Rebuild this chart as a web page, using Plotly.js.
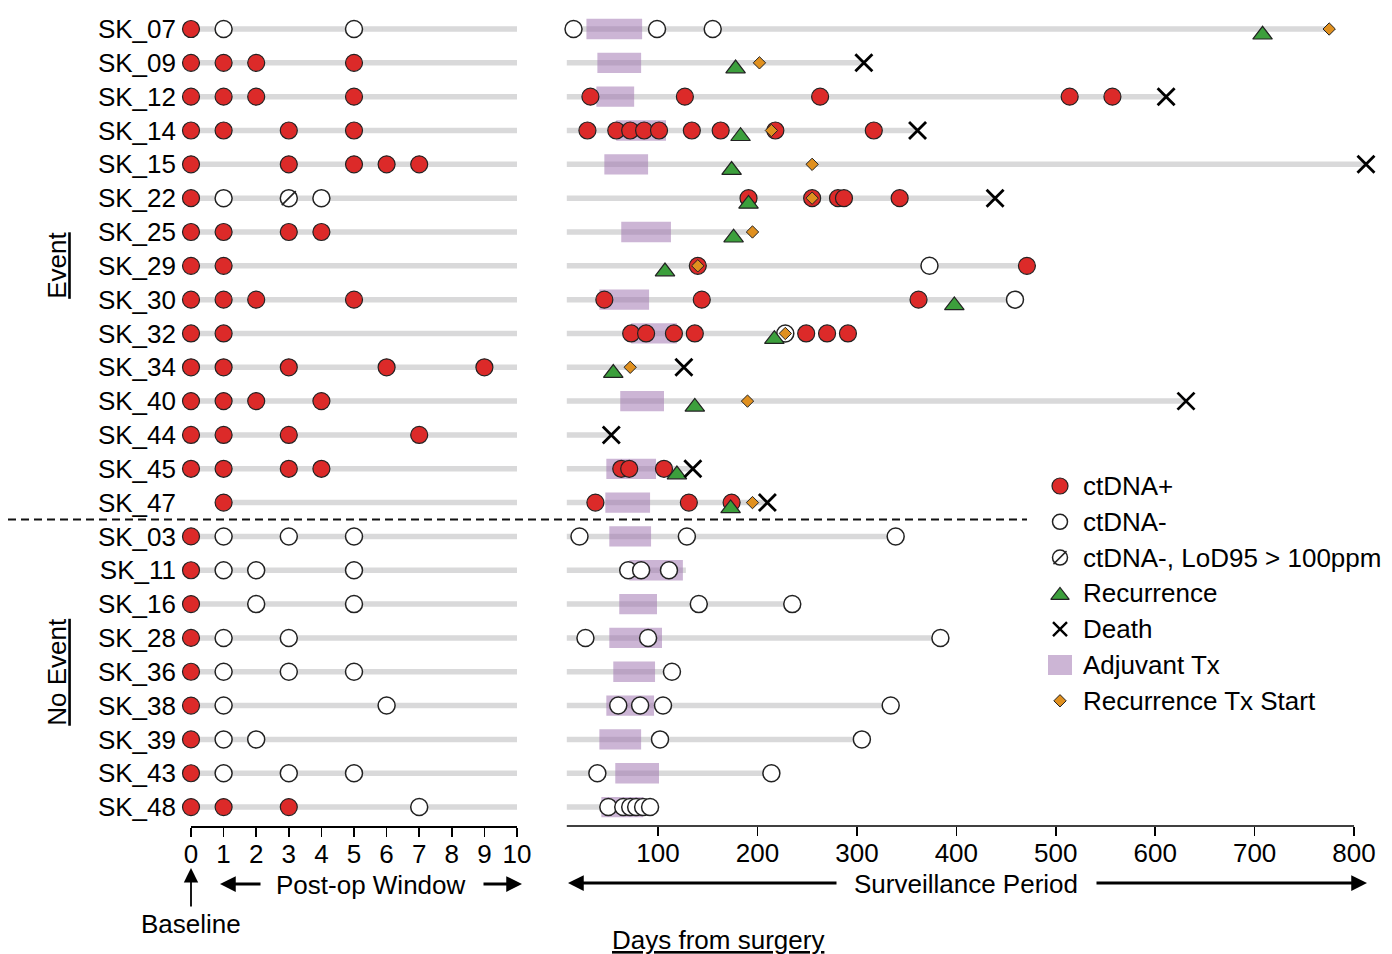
<!DOCTYPE html>
<html><head><meta charset="utf-8">
<script src="https://cdn.plot.ly/plotly-3.0.1.min.js"></script>
<style>html,body{margin:0;padding:0;background:#fff}#chart{width:1392px;height:954px}</style>
</head><body><div id="chart"></div>
<script>
// ---------------- DATA ----------------
const patients = ['SK_07','SK_09','SK_12','SK_14','SK_15','SK_22','SK_25','SK_29','SK_30','SK_32','SK_34','SK_40','SK_44','SK_45','SK_47',
                  'SK_03','SK_11','SK_16','SK_28','SK_36','SK_38','SK_39','SK_43','SK_48'];
const groupLabels = ['Event','No Event'];
const groupSizes = [15, 9];

// Post-op window (days 0-10)
const postPos = [[0],[0,1,2,5],[0,1,2,5],[0,1,3,5],[0,3,5,6,7],[0],[0,1,3,4],[0,1],[0,1,2,5],[0,1],[0,1,3,6,9],[0,1,2,4],[0,1,3,7],[0,1,3,4],[1],
                 [0],[0],[0],[0],[0],[0],[0],[0],[0,1,3]];
const postNeg = [[1,5],[],[],[],[],[1,4],[],[],[],[],[],[],[],[],[],
                 [1,3,5],[1,2,5],[2,5],[1,3],[1,3,5],[1,6],[1,2],[1,3,5],[7]];
const postLod = [[],[],[],[],[],[3],[],[],[],[],[],[],[],[],[],
                 [],[],[],[],[],[],[],[],[]];

// Surveillance period (days from surgery)
const survPos = [[],[],[32,127,263,514,557],[29,58,72,86,101,134,163,218,317],[],[191,255,281,287,343],[],[140,471],[46,144,362],[73,88,116,137,249,270,291],[],[],[],[63,71,106],[37,131,174],
                 [],[],[],[],[],[],[],[],[]];
const survNeg = [[15,99,155],[],[],[],[],[],[],[373],[459],[228],[],[],[],[],[],
                 [21,129,339],[70,83,111],[141,235],[27,90,384],[114],[60,82,105,334],[102,305],[39,214],[50,65,72,78,85,92]];
const recurrence = [708,178,null,183,174,191,176,107,398,217,55,137,null,119,173, null,null,null,null,null,null,null,null,null];
const recTxStart = [775,202,null,214,255,255,195,140,null,228,72,190,null,null,195, null,null,null,null,null,null,null,null,null];
const death      = [null,307,611,361,812,439,null,null,null,null,126,631,53,135,210, null,null,null,null,null,null,null,null,null];
const adjStart   = [28,39,38,58,46,null,63,null,41,73,null,62,null,48,47, 51,71,61,51,55,48,41,57,43];
const adjEnd     = [84,83,76,108,90,null,113,null,91,119,null,106,null,98,92, 93,125,99,104,97,96,83,101,85];
const followUp   = [773,307,611,361,812,439,195,471,459,228,126,631,53,135,210, 339,128,235,384,114,334,305,214,92];

const postTicks = [0,1,2,3,4,5,6,7,8,9,10];
const survTicks = [100,200,300,400,500,600,700,800];
const legendLabels = ['ctDNA+','ctDNA-','ctDNA-, LoD95 &gt; 100ppm','Recurrence','Death','Adjuvant Tx','Recurrence Tx Start'];

// ---------------- STYLE / LAYOUT ----------------
const W = 1392, H = 954;
const RED = '#dc2a29', GREEN = '#3c9f3c', ORANGE = '#e0901f', GRAY = '#d9d9da';
const ADJ = 'rgba(157,113,174,0.52)';
const EDGE = '#222';
const FONT = 'Liberation Sans, Arial, Helvetica, sans-serif';
const postRange = [postTicks[0], postTicks[postTicks.length-1]];
const survRange = [8, 815];
const pxDay = 0.9943, day0px = 558.6;
const X1_DOMAIN = [191/W, 517/W];
const X2_DOMAIN = [(day0px + survRange[0]*pxDay)/W, (day0px + survRange[1]*pxDay)/W];
const Y_DOMAIN = [1 - 826/H, 1 - 12.1/H];
const yRange = [patients.length - 1 + 0.56, -0.5];
const TRI_OFF = 0.17;

function flatten(arrs, yoff) {
  const x = [], y = [];
  arrs.forEach((a, i) => (a || []).forEach(v => { x.push(v); y.push(i + (yoff || 0)); }));
  return {x, y};
}
const single = a => a.map(v => v == null ? [] : [v]);

// gray lines
const lx = [], ly = [];
patients.forEach((p, i) => {
  const all = postPos[i].concat(postNeg[i], postLod[i]);
  lx.push(Math.min(...all), postRange[1], null); ly.push(i, i, null);
});
const rx = [], ry = [];
patients.forEach((p, i) => { rx.push(survRange[0], followUp[i], null); ry.push(i, i, null); });
// adjuvant boxes
const bx = [], by = [];
patients.forEach((p, i) => {
  if (adjStart[i] == null) return;
  const s = adjStart[i], e = adjEnd[i];
  bx.push(s, e, e, s, s, null); by.push(i - 0.3, i - 0.3, i + 0.3, i + 0.3, i - 0.3, null);
});

const posStyle = {symbol:'circle', size:17, color:RED, line:{color:EDGE, width:1.2}};
const negStyle = {symbol:'circle', size:17, color:'#fff', line:{color:EDGE, width:1.5}};
const common = {type:'scatter', mode:'markers', hoverinfo:'skip', cliponaxis:false};

const pp = flatten(postPos), pn = flatten(postNeg), pl = flatten(postLod);
const sp = flatten(survPos), sn = flatten(survNeg);
const rc = flatten(single(recurrence), TRI_OFF), rt = flatten(single(recTxStart)), dt = flatten(single(death));

const traces = [
  {type:'scatter', mode:'lines', x:lx, y:ly, xaxis:'x', yaxis:'y', line:{color:GRAY, width:5.5}, hoverinfo:'skip', connectgaps:false},
  {type:'scatter', mode:'lines', x:rx, y:ry, xaxis:'x2', yaxis:'y2', line:{color:GRAY, width:5.5}, hoverinfo:'skip', connectgaps:false},
  {type:'scatter', mode:'lines', x:bx, y:by, xaxis:'x2', yaxis:'y2', fill:'toself', fillcolor:ADJ, line:{width:0, color:'rgba(0,0,0,0)'}, hoverinfo:'skip', connectgaps:false},
  Object.assign({}, common, {x:pp.x, y:pp.y, xaxis:'x', yaxis:'y', marker:posStyle}),
  Object.assign({}, common, {x:pn.x, y:pn.y, xaxis:'x', yaxis:'y', marker:negStyle}),
  Object.assign({}, common, {x:pl.x, y:pl.y, xaxis:'x', yaxis:'y', marker:negStyle}),
  Object.assign({}, common, {x:pl.x, y:pl.y, xaxis:'x', yaxis:'y', marker:{symbol:'line-ne-open', size:14, color:EDGE, line:{color:EDGE, width:1.6}}}),
  Object.assign({}, common, {x:sp.x, y:sp.y, xaxis:'x2', yaxis:'y2', marker:posStyle}),
  Object.assign({}, common, {x:sn.x, y:sn.y, xaxis:'x2', yaxis:'y2', marker:negStyle}),
  Object.assign({}, common, {x:rc.x, y:rc.y, xaxis:'x2', yaxis:'y2', marker:{symbol:'triangle-up', size:17, color:GREEN, line:{color:EDGE, width:1.2}}}),
  Object.assign({}, common, {x:rt.x, y:rt.y, xaxis:'x2', yaxis:'y2', marker:{symbol:'diamond', size:9.5, color:ORANGE, line:{color:EDGE, width:1}}}),
  Object.assign({}, common, {x:dt.x, y:dt.y, xaxis:'x2', yaxis:'y2', marker:{symbol:'x-thin-open', size:17, color:'#000', line:{color:'#000', width:2.8}}})
];

// legend (pixel overlay axes x3/y3)
const LX = 1060, LT = 1083, LY0 = 486, LDY = 35.8;
const ly_ = k => LY0 + k * LDY;
const lg = (k, marker, dy) => Object.assign({}, common, {x:[LX], y:[ly_(k) + (dy || 0)], xaxis:'x3', yaxis:'y3', marker});
traces.push(
  lg(0, {symbol:'circle', size:16, color:RED, line:{color:EDGE, width:1.2}}),
  lg(1, {symbol:'circle', size:15, color:'#fff', line:{color:EDGE, width:1.5}}),
  lg(2, {symbol:'circle', size:15, color:'#fff', line:{color:EDGE, width:1.5}}),
  lg(2, {symbol:'line-ne-open', size:13, color:EDGE, line:{color:EDGE, width:1.5}}),
  lg(3, {symbol:'triangle-up', size:16, color:GREEN, line:{color:EDGE, width:1.2}}, 2),
  lg(4, {symbol:'x-thin-open', size:14, color:'#000', line:{color:'#000', width:2.4}}),
  {type:'scatter', mode:'lines', x:[LX-12, LX+12, LX+12, LX-12, LX-12], y:[ly_(5)-10, ly_(5)-10, ly_(5)+10, ly_(5)+10, ly_(5)-10], xaxis:'x3', yaxis:'y3', fill:'toself', fillcolor:ADJ, line:{width:0}, hoverinfo:'skip'},
  lg(6, {symbol:'diamond', size:9.5, color:ORANGE, line:{color:EDGE, width:1}})
);

const px = x => x / W, py = y => 1 - y / H;
const arrow = (xh, yh, xt, yt, w, s) => ({xref:'paper', yref:'paper', x:px(xh), y:py(yh), ax:xt - xh, ay:yt - yh,
  text:'', showarrow:true, arrowhead:2, arrowwidth:w, arrowsize:s, arrowcolor:'#000', standoff:0, startstandoff:0});
const txt = (x, y, t, extra) => Object.assign({xref:'paper', yref:'paper', x:px(x), y:py(y), text:t, showarrow:false,
  xanchor:'center', yanchor:'middle', font:{size:26, color:'#000', family:FONT}}, extra || {});

const annotations = [
  txt(57, 0, '<u>' + groupLabels[0] + '</u>', {yref:'y', y:(groupSizes[0] - 1) / 2, textangle:-90}),
  txt(57, 0, '<u>' + groupLabels[1] + '</u>', {yref:'y', y:groupSizes[0] + (groupSizes[1] - 1) / 2, textangle:-90}),
  arrow(191, 868, 191, 908, 1.8, 1.6),
  txt(191, 924, 'Baseline'),
  arrow(220, 884, 262, 884, 3, 1.05),
  txt(371, 885, 'Post-op Window'),
  arrow(522, 884, 482, 884, 3, 1.05),
  arrow(568, 883, 838, 883, 3, 1.05),
  txt(966, 884, 'Surveillance Period'),
  arrow(1367, 883, 1095, 883, 3, 1.05),
  txt(718, 940, '<u>Days from surgery</u>')
];
legendLabels.forEach((t, k) => annotations.push({xref:'x3', yref:'y3', x:LT - 2, y:ly_(k), text:t, showarrow:false,
  xanchor:'left', yanchor:'middle', font:{size:26, color:'#000', family:FONT}}));

const axBase = {showgrid:false, zeroline:false, tickfont:{size:26, family:FONT, color:'#000'}};
const layout = {
  width:W, height:H, margin:{l:0, r:0, t:0, b:0}, autosize:false,
  paper_bgcolor:'#fff', plot_bgcolor:'rgba(0,0,0,0)', showlegend:false,
  font:{family:FONT, size:26, color:'#000'},
  xaxis: Object.assign({}, axBase, {domain:X1_DOMAIN, range:postRange, anchor:'y', tickmode:'array', tickvals:postTicks,
    ticks:'outside', ticklen:9, tickwidth:1.5, tickcolor:'#000', showline:true, linecolor:'#000', linewidth:1.5, ticklabelstandoff:-5}),
  yaxis: Object.assign({}, axBase, {domain:Y_DOMAIN, range:yRange, anchor:'x', tickmode:'array', tickvals:patients.map((p, i) => i),
    ticktext:patients, ticks:'', showline:false, ticklabelstandoff:14}),
  xaxis2: Object.assign({}, axBase, {domain:X2_DOMAIN, range:survRange, anchor:'y2', tickmode:'array', tickvals:survTicks,
    ticks:'outside', ticklen:9, tickwidth:1.5, tickcolor:'#000', showline:false, ticklabelstandoff:-5}),
  yaxis2: Object.assign({}, axBase, {domain:Y_DOMAIN, range:yRange, anchor:'x2', showticklabels:false, ticks:'', showline:false}),
  xaxis3: {domain:[0, 1], range:[0, W], anchor:'y3', visible:false, fixedrange:true},
  yaxis3: {domain:[0, 1], range:[H, 0], anchor:'x3', visible:false, fixedrange:true},
  shapes: [
    {type:'line', xref:'x2', yref:'paper', x0:survRange[0], x1:survTicks[survTicks.length - 1], y0:Y_DOMAIN[0], y1:Y_DOMAIN[0], line:{color:'#000', width:1.5}},
    {type:'line', xref:'paper', yref:'y', x0:px(8), x1:px(1027), y0:groupSizes[0] - 0.5, y1:groupSizes[0] - 0.5, line:{color:'#111', width:2, dash:'8px,5px'}}
  ],
  annotations
};
Plotly.newPlot('chart', traces, layout, {staticPlot:true, displayModeBar:false});
</script>
</body></html>
